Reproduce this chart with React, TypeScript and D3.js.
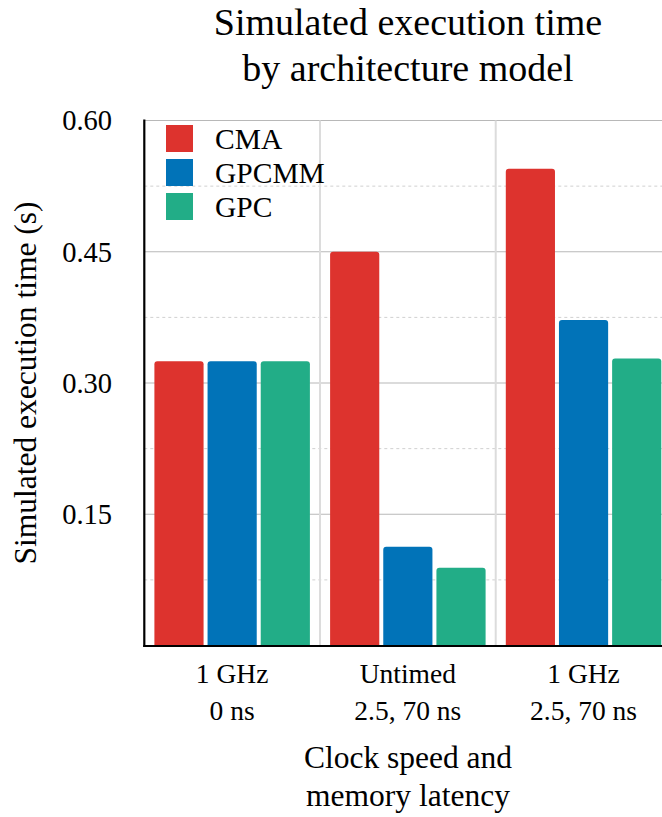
import React from "react";
import * as d3 from "d3";

// data
const categories = ["1 GHz|0 ns", "Untimed|2.5, 70 ns", "1 GHz|2.5, 70 ns"];
const seriesNames = ["CMA", "GPCMM", "GPC"];
const cmaValues = [0.325, 0.45, 0.545];
const gpcmmValues = [0.325, 0.113, 0.372];
const gpcValues = [0.325, 0.089, 0.328];
const yTicks = [0.15, 0.3, 0.45, 0.6];
const colors = ["#dd332e", "#0173b8", "#22ad87"];

const W = 662, H = 817;
const margin = { left: 144.3, top: 120.5, bottom: 645.5 };
const groupW = 175.7;
const font = "'Liberation Serif', 'Times New Roman', serif";

function barPath(x: number, y: number, w: number, h: number, r: number) {
  r = Math.min(r, h);
  return `M${x},${y + h}V${y + r}Q${x},${y} ${x + r},${y}H${x + w - r}Q${x + w},${y} ${x + w},${y + r}V${y + h}Z`;
}

export default function App() {
  const values = [cmaValues, gpcmmValues, gpcValues];

  const x0 = d3.scaleBand()
    .domain(categories)
    .range([margin.left, margin.left + groupW * categories.length])
    .padding(0);
  const x1 = d3.scaleBand()
    .domain(seriesNames)
    .range([0, x0.bandwidth()])
    .paddingInner(0.075)
    .paddingOuter(0.19);
  const y = d3.scaleLinear().domain([0, 0.6]).range([margin.bottom, margin.top]);

  const minor = d3.range(0.075, 0.6, 0.15);
  const xRight = margin.left + groupW * categories.length;

  return (
    <div style={{ position: "absolute", left: 0, top: 0 }}>
      <svg width={W} height={H} style={{ display: "block" }} fontFamily={font}>
        <rect width={W} height={H} fill="#fff" />

        {/* title */}
        <text x={408} y={35} fontSize={38} textAnchor="middle">Simulated execution time</text>
        <text x={408} y={81} fontSize={38} textAnchor="middle">by architecture model</text>

        {/* grid */}
        {minor.map((v) => (
          <line key={"m" + v} x1={margin.left} x2={xRight} y1={y(v)} y2={y(v)}
            stroke="#d0d0d0" strokeWidth={1} strokeDasharray="3,3" />
        ))}
        {yTicks.map((v) => (
          <line key={"g" + v} x1={margin.left} x2={xRight} y1={y(v)} y2={y(v)}
            stroke="#b8b8b8" strokeWidth={1.2} />
        ))}
        {categories.slice(1).map((c) => (
          <line key={"v" + c} x1={x0(c)} x2={x0(c)} y1={margin.top} y2={margin.bottom}
            stroke="#dcdcdc" strokeWidth={2} />
        ))}

        {/* bars */}
        {categories.map((c, ci) => (
          <g key={c} transform={`translate(${x0(c)},0)`}>
            {seriesNames.map((s, si) => {
              const v = values[si][ci];
              const bx = x1(s)!;
              const by = y(v);
              return (
                <path key={s} d={barPath(bx, by, x1.bandwidth(), margin.bottom - by, 3)}
                  fill={colors[si]} />
              );
            })}
          </g>
        ))}

        {/* axes */}
        <line x1={margin.left} x2={margin.left} y1={margin.top - 1} y2={margin.bottom + 1.5}
          stroke="#000" strokeWidth={2.2} />
        <line x1={margin.left - 1} x2={W} y1={margin.bottom + 0.5} y2={margin.bottom + 0.5}
          stroke="#000" strokeWidth={2.2} />

        {/* y ticks */}
        {yTicks.map((v) => (
          <text key={"t" + v} x={112} y={y(v)} dy="0.35em" fontSize={28.5} textAnchor="end">
            {d3.format(".2f")(v)}
          </text>
        ))}

        {/* x ticks */}
        {categories.map((c) => {
          const [a, b] = c.split("|");
          const cx = x0(c)! + x0.bandwidth() / 2;
          return (
            <g key={"x" + c}>
              <text x={cx} y={683} fontSize={27.5} textAnchor="middle">{a}</text>
              <text x={cx} y={720} fontSize={27.5} textAnchor="middle">{b}</text>
            </g>
          );
        })}

        {/* axis titles */}
        <text x={408} y={768} fontSize={31.5} textAnchor="middle">Clock speed and</text>
        <text x={408} y={806} fontSize={31.5} textAnchor="middle">memory latency</text>
        <text transform={`translate(36,${(margin.top + margin.bottom) / 2}) rotate(-90)`}
          fontSize={31.5} textAnchor="middle">Simulated execution time (s)</text>

        {/* legend */}
        {seriesNames.map((s, i) => (
          <g key={"l" + s} transform={`translate(166,${125 + i * 34})`}>
            <rect width={27} height={27} fill={colors[i]} />
            <text x={49} y={13.5} dy="0.35em" fontSize={29.5}>{s}</text>
          </g>
        ))}
      </svg>
    </div>
  );
}
